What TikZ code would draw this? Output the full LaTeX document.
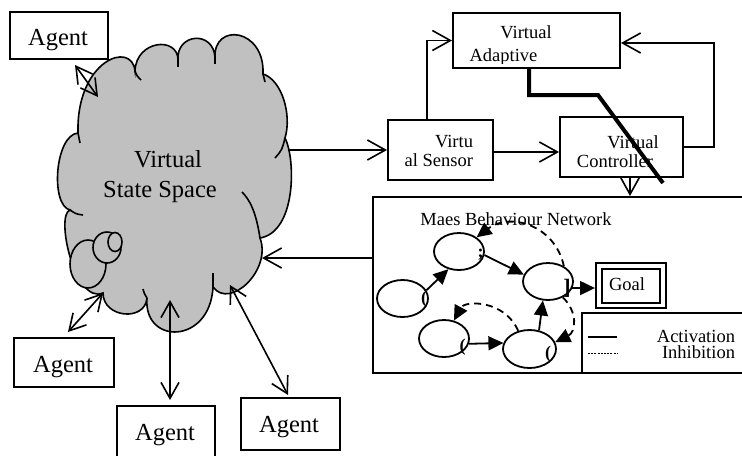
\documentclass[tikz,border=0pt]{standalone}
\usepackage{fontspec}
\setmainfont{Liberation Serif}
\usetikzlibrary{arrows.meta,shapes.geometric,calc}
\definecolor{cloudgray}{RGB}{192,192,192}
\begin{document}
\begin{tikzpicture}[x=0.5pt,y=-0.5pt,
  box/.style={draw, line width=1pt, rectangle, inner sep=0pt},
  txt/.style={inner sep=0pt, outer sep=0pt},
  big/.style={txt, font=\fontsize{12.25}{14}\selectfont},
  small/.style={txt, font=\fontsize{9.25}{11}\selectfont},
  frag/.style={txt, font=\fontsize{9}{10}\selectfont\bfseries},
  conn/.style={line width=0.8pt},
  oarr/.style={conn,-{Straight Barb[length=9pt,width=10pt]}},
  darr/.style={conn,{Straight Barb[length=8pt,width=9pt]}-{Straight Barb[length=8pt,width=9pt]}},
  ell/.style={draw, ellipse, line width=0.9pt, inner sep=0pt},
  farr/.style={line width=0.9pt,-{Triangle[length=7.5pt,width=7pt]}},
  dfarr/.style={farr, dash pattern=on 3.5pt off 2.5pt},
  bubble/.style={draw, fill=cloudgray, line width=0.8pt},
]
\useasboundingbox (0,0) rectangle (742,455);
\clip (0,0) rectangle (742,455);

% ---------- cloud ----------
\filldraw[fill=cloudgray, draw=black, line width=0.8pt]
 (78,133) .. controls (76,60) and (132,40) .. (135,71)
 .. controls (136,40) and (178,36) .. (178,60)
 .. controls (176,33) and (214,30) .. (215,58)
 .. controls (213,22) and (265,28) .. (263,74)
 .. controls (282,80) and (292,115) .. (285,138)
 .. controls (296,160) and (296,232) .. (260,238)
 .. controls (272,270) and (230,310) .. (213,287)
 .. controls (210,345) and (143,345) .. (147,298)
 .. controls (145,322) and (103,318) .. (103,293)
 .. controls (75,305) and (55,215) .. (70,210)
 .. controls (50,205) and (55,135) .. (78,133) -- cycle;
\begin{scope}[line width=0.8pt]
\draw (78,133) .. controls (78.5,138) .. (80,143);
\draw (135,71) .. controls (137,76) .. (141,80);
\draw (178,60) -- (178,67);
\draw (215,58) -- (215,64);
\draw (263,74) -- (265,82);
\draw (285,138) .. controls (282,150) .. (275,158);
\draw (260,238) .. controls (256,212) and (250,200) .. (242,192);
\draw (213,287) -- (213,273);
\draw (147,298) .. controls (144,293) .. (143,289);
\draw (70,210) .. controls (76,214) .. (83,215);
\end{scope}
\draw[bubble] (88,264) ellipse [x radius=18, y radius=24];
\draw[bubble] (107,247.5) ellipse [x radius=14, y radius=15.5];
\draw[bubble] (115,242) ellipse [x radius=7, y radius=9.5];
\node[big, anchor=base] (vss1) at (168,167) {Virtual};
\node[big, anchor=base] (vss2) at (160,197) {State Space};

% ---------- agents ----------
\node[box, line width=1.4pt, minimum width=49pt, minimum height=23.5pt] (agTL) at (59,35.5) {};
\node[box, minimum width=50pt, minimum height=24.5pt] (agBL) at (64,362.5) {};
\node[box, minimum width=49pt, minimum height=32pt] (agBM) at (166,438) {};
\node[box, minimum width=49.5pt, minimum height=26pt] (agBR) at (290.5,424) {};
\node[big, anchor=base] (tTL) at (58,45) {Agent};
\node[big, anchor=base] (tBL) at (63,372) {Agent};
\node[big, anchor=base] (tBM) at (165,440) {Agent};
\node[big, anchor=base] (tBR) at (289,432) {Agent};

\coordinate (qTL) at (75,65);   \coordinate (pTL) at (98,97);
\coordinate (qBL) at (68,332);  \coordinate (pBL) at (103,293);
\coordinate (qBM) at (170,400); \coordinate (pBM) at (170,300);
\coordinate (qBR) at (288,395); \coordinate (pBR) at (230,285);
\draw[darr] (qTL) -- (pTL);
\draw[darr] (qBL) -- (pBL);
\draw[darr] (qBM) -- (pBM);
\draw[darr] (qBR) -- (pBR);

% ---------- control boxes ----------
\node[box, minimum width=52.5pt, minimum height=30pt] (sensor) at (440.5,150) {};
\node[box, minimum width=61.5pt, minimum height=30pt] (controller) at (621.5,147) {};
\node[box, minimum width=83.5pt, minimum height=27.5pt] (adaptive) at (536.5,40.5) {};
\node[small, anchor=base east] (s1) at (473,147) {Virtu};
\node[small, anchor=base east] (s2) at (473,166) {al Sensor};
\node[small, anchor=base] (c1) at (633,148) {Virtual};
\node[small, anchor=base] (c2) at (615,167) {Controller};
\node[small, anchor=base] (a1) at (526,38) {Virtual};
\begin{scope}
\clip (453,13) rectangle (620,63);
\node[small, anchor=base] (a2) at (503.5,61) {Adaptive};
\end{scope}

\coordinate (cloudR) at (288,150);
\draw[oarr] (cloudR) -- (sensor.west);
\draw[oarr] ($(sensor.north west)+(40,0)$) |- (adaptive.west);
\draw[oarr] ($(sensor.east)+(0,2)$) -- ($(sensor.east -| controller.west)+(0,2)$);
\draw[oarr] (controller.east) -- ++(30,0) |- ($(adaptive.east)+(0,2.5)$);

% ---------- Maes network box ----------
\node[box, minimum width=188.5pt, minimum height=88pt] (maes) at (561.5,285) {};
\node[box, minimum width=84pt, minimum height=30pt] (legend) at (666,343) {};
\coordinate (cs) at ($(controller.south)+(8.5,0)$);
\draw[oarr] (cs) -- (cs |- maes.north);
\coordinate (cloudIn) at (262,258);
\draw[oarr] (cloudIn -| maes.west) -- (cloudIn);

\node[small, anchor=base] (mtitle) at (516,225) {Maes Behaviour Network};
\node[box, minimum width=35pt, minimum height=22.5pt] (goal) at (631,285.5) {};
\node[box, minimum width=29pt, minimum height=17pt] (goalin) at (631,286) {};
\node[small, anchor=base] (goalt) at (627,290) {Goal};

\node[ell, minimum width=25.5pt, minimum height=18.5pt] (e1) at (402.5,298.5) {};
\node[ell, minimum width=25pt, minimum height=18.5pt] (e2) at (459,251.5) {};
\node[ell, minimum width=25pt, minimum height=18.5pt] (e3) at (548,281.5) {};
\node[ell, minimum width=25pt, minimum height=18.5pt] (e4) at (444,338.5) {};
\node[ell, minimum width=26.5pt, minimum height=19pt] (e5) at (529.5,349) {};
\node[frag] (f1) at (424,299) {(};
\node[frag] (f2) at (480.5,255) {;};
\node[txt, font=\fontsize{11}{12}\selectfont\bfseries] (f3) at (567,288) {]};
\node[frag] (f4) at (462.5,347.5) {(};
\node[frag] (f5) at (548,354) {(};

\draw[farr] (e1.19) -- (e2.239);
\draw[farr] (e2.352) -- (e3.164);
\draw[farr] (e3.345) -- (e3.345 -| goal.west);
\draw[farr] (e4.348) -- (e5.167);
\draw[farr] (e5.63) -- (e3.255);
\draw[dfarr] (e3.44) .. controls (555,225) and (510,212) .. (e2.39);
\draw[dfarr] (e5.122) .. controls (505,300) and (465,300) .. (e4.61);
\draw[dfarr] (e3.313) .. controls (578,312) and (576,332) .. (e5.15);

% legend
\coordinate (l1a) at (588,337); \coordinate (l1b) at (617,337);
\coordinate (l2a) at (588,353); \coordinate (l2b) at (617,353);
\draw[line width=0.8pt] (l1a) -- (l1b);
\draw[line width=0.4pt, dash pattern=on 1pt off 0.6pt] (l2a) -- (l2b);
\node[small, anchor=base east] (lt1) at (735,342) {Activation};
\node[small, anchor=base east] (lt2) at (735,358) {Inhibition};

% thick line
\coordinate (tk0) at ($(adaptive.south west)+(77,0)$);
\coordinate (tk1) at (598,95);
\coordinate (tk2) at (663,183);
\draw[line width=2pt] (tk0) |- (tk1) -- (tk2);
\end{tikzpicture}
\end{document}
